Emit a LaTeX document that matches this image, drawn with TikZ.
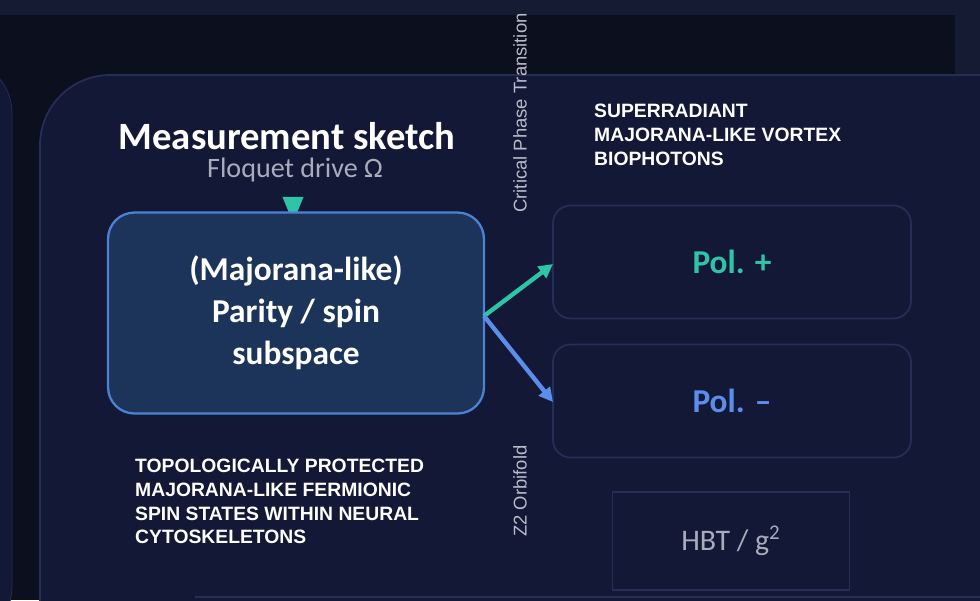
\documentclass[tikz,border=0pt]{standalone}
\usepackage{fontspec}
\setmainfont{Carlito}
\newfontfamily\arialfont{Liberation Sans}
\usetikzlibrary{arrows.meta,shapes.geometric}
\definecolor{frameblue}{HTML}{151B33}
\definecolor{deepbg}{HTML}{0B0F1E}
\definecolor{panelfill}{HTML}{121835}
\definecolor{panelline}{HTML}{262E56}
\definecolor{corefill}{HTML}{1C3459}
\definecolor{coreline}{HTML}{4C82D4}
\definecolor{tealc}{HTML}{2EC4A8}
\definecolor{bluec}{HTML}{5B8EEA}
\definecolor{softgray}{HTML}{A8ADBE}
\tikzset{>={Triangle[length=8pt,width=8pt]}}
\tikzset{
  polbox/.style = {draw=panelline, line width=1pt, fill=panelfill, rounded corners=10pt,
    minimum width=7.16cm, minimum height=2.26cm},
  caps/.style = {text=white, font=\arialfont\bfseries\fontsize{11}{13.5}\selectfont, align=left},
  sidelabel/.style = {text=softgray!80!white, font=\arialfont\fontsize{10.5}{12}\selectfont, rotate=90}
}

\begin{document}
\begin{tikzpicture}[x=0.02cm,y=-0.02cm]
  \useasboundingbox (0,0) rectangle (980,600);
  \fill[frameblue] (0,0) rectangle (980,600);
  \fill[deepbg] (0,15) rectangle (955,600);
  % left neighbour panel and main panel
  \draw[panelline, fill=panelfill, rounded corners=30pt] (-60,60) rectangle (12,640);
  \draw[panelline, line width=1pt, fill=panelfill, rounded corners=40pt] (40,75) rectangle (1060,680);
  \node[text=white, inner sep=0pt, font=\bfseries\fontsize{22}{24}\selectfont] (title) at (287,136) {Measurement sketch};
  \node[text=softgray, inner sep=0pt, font=\fontsize{16}{18}\selectfont] (drive) at (295,170) {Floquet drive Ω};
  \node[fill=tealc, isosceles triangle, shape border rotate=-90, inner sep=0pt,
    minimum width=12pt, minimum height=8pt] (tri) at (293,204) {};
  \node[draw=coreline, line width=1.3pt, fill=corefill, rounded corners=15pt,
    minimum width=7.52cm, minimum height=4.02cm, text=white,
    font=\bfseries\fontsize{19}{24}\selectfont, align=center] (core) at (296,313)
    {(Majorana-like)\\Parity / spin\\subspace};
  \node[polbox] (plus) at (732,262) {};
  \node[text=tealc, font=\bfseries\fontsize{19}{22}\selectfont] at (plus) {Pol. +};
  \node[polbox] (minus) at (732,401) {};
  \node[text=bluec, font=\bfseries\fontsize{19}{22}\selectfont] at (minus) {Pol. --};
  \coordinate (fork) at (484,316);
  \draw[->, tealc, line width=2.5pt] (fork) -- (553,264);
  \draw[->, bluec, line width=2.5pt] (fork) -- (553,402);
  \node[sidelabel] (crit) at (520,113) {Critical Phase Transition};
  \node[sidelabel] (orb) at (520,491) {Z2 Orbifold};
  \node[caps, anchor=north west] (super) at (588,98) {SUPERRADIANT\\MAJORANA-LIKE VORTEX\\BIOPHOTONS};
  \node[caps, anchor=north west] (topo) at (129,453) {TOPOLOGICALLY PROTECTED\\MAJORANA-LIKE FERMIONIC\\SPIN STATES WITHIN NEURAL\\CYTOSKELETONS};
  \node[draw=panelline, line width=1pt, minimum width=4.74cm, minimum height=1.96cm,
    text=softgray, font=\fontsize{17}{20}\selectfont] (hbt) at (731,541) {HBT / g\textsuperscript{2}};
  \draw[panelline, line width=1pt] (195,597) -- (980,597);
\end{tikzpicture}
\end{document}
